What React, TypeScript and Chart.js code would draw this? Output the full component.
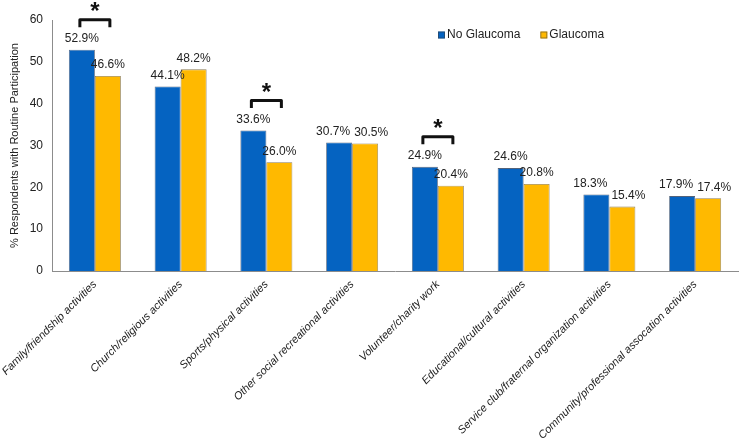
import React, { useEffect, useRef } from "react";
import { Chart, registerables } from "chart.js";

Chart.register(...registerables);

const categories = [
  "Family/friendship activities",
  "Church/religious activities",
  "Sports/physical activities",
  "Other social recreational activities",
  "Volunteer/charity work",
  "Educational/cultural activities",
  "Service club/fraternal organization activities",
  "Community/professional assocation activities",
];
const seriesLabels = ["No Glaucoma", "Glaucoma"];
const noGlaucoma = [52.9, 44.1, 33.6, 30.7, 24.9, 24.6, 18.3, 17.9];
const glaucoma = [46.6, 48.2, 26.0, 30.5, 20.4, 20.8, 15.4, 17.4];
const significantCategories = [0, 2, 4];
const yMin = 0;
const yMax = 60;
const yStep = 10;
const yTitle = "% Respondents with Routine Participation";

const seriesColors = ["#0563C1", "#FFB900"];
const FONT = '"Liberation Sans", Arial, sans-serif';

const valueLabelPlugin = {
  id: "valueLabels",
  afterDatasetsDraw(chart: any) {
    const ctx = chart.ctx;
    ctx.save();
    ctx.font = `12px ${FONT}`;
    ctx.fillStyle = "#222";
    ctx.textAlign = "center";
    ctx.textBaseline = "middle";
    const metas = chart.data.datasets.map((_: any, i: number) => chart.getDatasetMeta(i));
    for (let j = 0; j < chart.data.labels.length; j++) {
      const items = metas.map((m: any, i: number) => {
        const el = m.data[j];
        const v = chart.data.datasets[i].data[j] as number;
        const text = v.toFixed(1) + "%";
        return { x: el.x, y: el.y - 11, text, w: ctx.measureText(text).width };
      });
      if (items.length === 2) {
        const [a, b] = items;
        if (Math.abs(a.y - b.y) < 13) {
          const overlap = a.w / 2 + b.w / 2 + 4 - (b.x - a.x);
          if (overlap > 0) {
            a.x -= overlap / 2;
            b.x += overlap / 2;
          }
        }
      }
      items.forEach((it: any) => ctx.fillText(it.text, it.x, it.y));
    }
    ctx.restore();
  },
};

const significancePlugin = {
  id: "significance",
  afterDatasetsDraw(chart: any) {
    const ctx = chart.ctx;
    const m0 = chart.getDatasetMeta(0);
    const m1 = chart.getDatasetMeta(1);
    ctx.save();
    significantCategories.forEach((j) => {
      const a = m0.data[j];
      const b = m1.data[j];
      const top = Math.min(a.y, b.y) - 30;
      const cx = (a.x + b.x) / 2;
      const x0 = cx - 15;
      const x1 = cx + 15;
      ctx.strokeStyle = "#111";
      ctx.lineWidth = 3;
      ctx.lineJoin = "round";
      ctx.lineCap = "butt";
      ctx.beginPath();
      ctx.moveTo(x0, top + 7.5);
      ctx.lineTo(x0, top);
      ctx.lineTo(x1, top);
      ctx.lineTo(x1, top + 7.5);
      ctx.stroke();
      ctx.font = `bold 24px ${FONT}`;
      ctx.fillStyle = "#111";
      ctx.textAlign = "center";
      ctx.textBaseline = "alphabetic";
      const mt = ctx.measureText("*");
      const mid = (mt.actualBoundingBoxAscent - mt.actualBoundingBoxDescent) / 2;
      const starCenter = top - 13;
      ctx.fillText("*", cx, starCenter + mid);
    });
    ctx.restore();
  },
};

const customLegendPlugin = {
  id: "customLegend",
  afterDraw(chart: any) {
    const opts = chart.options.plugins.customLegend || {};
    const ctx = chart.ctx;
    ctx.save();
    ctx.font = `12px ${FONT}`;
    ctx.textBaseline = "middle";
    ctx.textAlign = "left";
    let x = opts.x ?? 438;
    const y = opts.y ?? 35;
    chart.data.datasets.forEach((ds: any) => {
      ctx.fillStyle = ds.backgroundColor;
      ctx.fillRect(x, y - 3.5, 7, 7);
      ctx.strokeStyle = "rgba(60,60,60,0.7)";
      ctx.lineWidth = 0.75;
      ctx.strokeRect(x + 0.5, y - 3, 6, 6);
      ctx.fillStyle = "#222";
      ctx.fillText(ds.label, x + 9, y);
      x += 9 + ctx.measureText(ds.label).width + 20;
    });
    ctx.restore();
  },
};

export default function App() {
  const canvasRef = useRef<HTMLCanvasElement | null>(null);

  useEffect(() => {
    if (!canvasRef.current) return;
    Chart.defaults.font.family = FONT;
    const chart = new Chart(canvasRef.current, {
      type: "bar",
      data: {
        labels: categories,
        datasets: [
          {
            label: seriesLabels[0],
            data: noGlaucoma,
            backgroundColor: seriesColors[0],
            borderColor: "rgba(40,60,90,0.8)",
            borderWidth: 0.8,
            categoryPercentage: 0.606,
            barPercentage: 1,
          },
          {
            label: seriesLabels[1],
            data: glaucoma,
            backgroundColor: seriesColors[1],
            borderColor: "rgba(110,90,40,0.8)",
            borderWidth: 0.8,
            categoryPercentage: 0.606,
            barPercentage: 1,
          },
        ],
      },
      options: {
        responsive: false,
        animation: false,
        layout: { padding: { top: 20, right: 2, left: 0, bottom: 0 } },
        plugins: {
          legend: { display: false },
          tooltip: { enabled: false },
          customLegend: { x: 438, y: 35 },
        } as any,
        scales: {
          x: {
            grid: { display: false, drawTicks: false },
            border: { display: true, color: "#8c8c8c", width: 1 },
            ticks: {
              color: "#222",
              font: { size: 11, style: "italic", family: FONT },
              minRotation: 45,
              maxRotation: 45,
              autoSkip: false,
              padding: 7,
            },
            afterFit: (s: any) => {
              s.height = 171;
              s.paddingLeft = 0;
              s.paddingRight = 0;
            },
          },
          y: {
            min: yMin,
            max: yMax,
            grid: { display: false, drawTicks: false },
            border: { display: true, color: "#8c8c8c", width: 1 },
            ticks: {
              stepSize: yStep,
              color: "#222",
              font: { size: 12, family: FONT },
              padding: 9,
            },
            title: {
              display: true,
              text: yTitle,
              color: "#222",
              font: { size: 11, family: FONT },
              padding: { top: 8, bottom: 0 },
            },
            afterFit: (s: any) => {
              s.width = 52;
            },
          },
        },
      },
      plugins: [valueLabelPlugin, significancePlugin, customLegendPlugin],
    });
    return () => chart.destroy();
  }, []);

  return (
    <div style={{ position: "absolute", left: 0, top: 0, width: 740, height: 442, background: "#fff" }}>
      <canvas ref={canvasRef} width={740} height={442} />
    </div>
  );
}
